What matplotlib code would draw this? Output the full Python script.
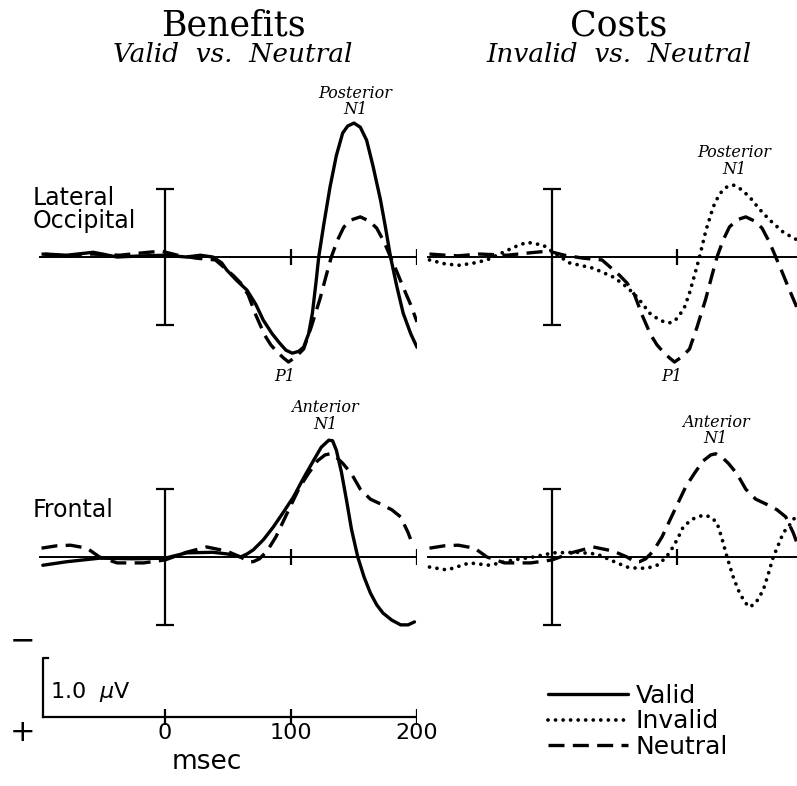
"""ERP waveforms: benefits (valid vs neutral) and costs (invalid vs neutral)."""

import matplotlib

matplotlib.use("Agg")
import matplotlib.pyplot as plt  # noqa: E402
from matplotlib.lines import Line2D  # noqa: E402

W, H = 797, 786
PX_PER_UV = 59.0  # vertical scale: pixels per microvolt (negative up)

# ---- data (ms, microvolts; negative plotted upward) ----
occ_valid_t = [-95, -78, -57, -38, -17, 0, 17, 28, 38, 45, 49, 57, 65, 72, 78, 85, 91, 96, 101,
               106, 110, 114, 117, 120, 122, 126, 131, 136, 141, 145, 150, 155, 160, 165, 171,
               175, 179, 184, 189, 195, 200]
occ_valid_v = [-0.05, -0.03, -0.08, 0.0, -0.02, -0.03, 0.0, -0.03, 0.0, 0.1, 0.22, 0.4, 0.56,
               0.8, 1.07, 1.3, 1.46, 1.58, 1.63, 1.6, 1.53, 1.3, 0.95, 0.4, 0.0, -0.55, -1.19,
               -1.72, -2.10, -2.22, -2.27, -2.20, -1.98, -1.55, -0.97, -0.5, 0.0, 0.5, 0.95,
               1.3, 1.53]

occ_neutral_t = [-98, -85, -75, -58, -36, -18, -3, 10, 25, 40, 54, 60, 66, 72, 79, 84, 89, 94,
                 98, 104, 110, 116, 123, 128, 132, 137, 142, 148, 155, 162, 168, 174, 179, 184,
                 189, 195, 200]
occ_neutral_v = [-0.05, -0.03, -0.02, -0.05, -0.03, -0.07, -0.10, -0.03, 0.02, 0.05, 0.31, 0.44,
                 0.64, 0.98, 1.32, 1.49, 1.61, 1.71, 1.78, 1.69, 1.56, 1.19, 0.71, 0.31, 0.0,
                 -0.29, -0.51, -0.63, -0.68, -0.61, -0.49, -0.25, 0.0, 0.25, 0.51, 0.81, 1.10]

occ_invalid_t = [-98, -85, -74, -62, -52, -42, -30, -20, -7, 1, 14, 33, 49, 57, 65, 72, 78, 86,
                 93, 97, 101, 106, 110, 114, 118, 123, 129, 134, 140, 145, 151, 158, 166, 174,
                 185, 196]
occ_invalid_v = [0.05, 0.12, 0.14, 0.10, 0.05, -0.05, -0.17, -0.25, -0.20, -0.08, 0.10, 0.19,
                 0.34, 0.46, 0.61, 0.78, 0.95, 1.07, 1.12, 1.10, 1.02, 0.85, 0.61, 0.31, 0.0,
                 -0.44, -0.85, -1.07, -1.19, -1.22, -1.15, -1.02, -0.81, -0.63, -0.42, -0.29]

front_valid_t = [-97, -78, -52, -25, 0, 17, 38, 50, 60, 65, 70, 78, 86, 94, 102, 110, 118, 124,
                 130, 133, 136, 140, 144, 148, 153, 158, 163, 168, 173, 180, 187, 193, 198]
front_valid_v = [0.14, 0.08, 0.02, 0.03, 0.02, -0.07, -0.08, -0.05, 0.0, -0.05, -0.12, -0.29,
                 -0.51, -0.76, -1.02, -1.34, -1.64, -1.86, -1.98, -1.97, -1.81, -1.44, -0.97,
                 -0.47, 0.0, 0.34, 0.61, 0.81, 0.95, 1.07, 1.15, 1.15, 1.10]

front_neutral_t = [-98, -86, -75, -62, -52, -38, -17, 0, 17, 33, 49, 60, 66, 70, 75, 81, 88, 94,
                   100, 107, 114, 121, 127, 131, 136, 141, 148, 155, 163, 171, 180, 187, 193, 197]
front_neutral_v = [-0.15, -0.19, -0.20, -0.15, 0.0, 0.10, 0.10, 0.05, -0.08, -0.17, -0.10, 0.0,
                   0.08, 0.08, 0.03, -0.10, -0.34, -0.61, -0.88, -1.19, -1.42, -1.63, -1.73,
                   -1.75, -1.69, -1.59, -1.41, -1.15, -0.98, -0.90, -0.80, -0.68, -0.41, -0.18]

front_invalid_t = [-98, -84, -66, -50, -31, -15, 1, 20, 36, 52, 60, 68, 76, 84, 89, 94, 100, 105,
                   112, 121, 127, 132, 136, 140, 145, 149, 154, 158, 163, 169, 173, 177, 181,
                   185, 190, 194]
front_invalid_v = [0.17, 0.22, 0.10, 0.14, 0.05, 0.0, -0.07, -0.08, -0.05, 0.10, 0.17, 0.19,
                   0.19, 0.14, 0.05, -0.07, -0.29, -0.51, -0.64, -0.71, -0.68, -0.58, -0.31, 0.0,
                   0.34, 0.56, 0.76, 0.85, 0.78, 0.56, 0.29, 0.0, -0.20, -0.41, -0.54, -0.66]

conditions = ["Valid", "Invalid", "Neutral"]
time_ticks = [0, 100, 200]

LW = 2.4
STYLE = {
    "Valid": dict(ls="-", lw=LW, solid_capstyle="round"),
    "Invalid": dict(ls=(0, (0.01, 2.0)), lw=LW + 0.3, dash_capstyle="round"),
    "Neutral": dict(ls=(0, (4.8, 2.5)), lw=LW, dash_capstyle="butt"),
}
SANS = "DejaVu Sans"
SERIF = "DejaVu Serif"


def panel(fig, x0, x1, tlim, base, vtop, vbot):
    top_px = base + vtop * PX_PER_UV
    bot_px = base + vbot * PX_PER_UV
    ax = fig.add_axes([x0 / W, 1 - bot_px / H, (x1 - x0) / W, (bot_px - top_px) / H])
    ax.set_xlim(*tlim)
    ax.set_ylim(vbot, vtop)
    ax.axis("off")
    return ax


def frame(ax, ticks):
    ax.axhline(0, color="k", lw=1.4, zorder=1)
    bar = 1.15
    ax.vlines(0, -bar, bar, color="k", lw=1.6, zorder=1)
    ax.hlines([-bar, bar], -7.5, 7.5, color="k", lw=1.6, zorder=1)
    ax.vlines(ticks, -0.14, 0.14, color="k", lw=1.6, zorder=1)


def curve(ax, t, v, cond):
    ax.plot(t, v, color="k", zorder=3, **STYLE[cond])


fig = plt.figure(figsize=(W / 100, H / 100), dpi=100)

ax_ol = panel(fig, 39, 417, (-100, 200), 257, -2.7, 2.1)
ax_or = panel(fig, 427, 797, (-100, 196), 257, -2.7, 2.1)
ax_fl = panel(fig, 39, 417, (-100, 200), 557, -2.35, 1.6)
ax_fr = panel(fig, 427, 797, (-100, 196), 557, -2.35, 1.6)

frame(ax_ol, [100, 200])
frame(ax_or, [100])
frame(ax_fl, [100, 200])
frame(ax_fr, [100])

curve(ax_ol, occ_neutral_t, occ_neutral_v, "Neutral")
curve(ax_ol, occ_valid_t, occ_valid_v, "Valid")
curve(ax_or, occ_neutral_t, occ_neutral_v, "Neutral")
curve(ax_or, occ_invalid_t, occ_invalid_v, "Invalid")
curve(ax_fl, front_neutral_t, front_neutral_v, "Neutral")
curve(ax_fl, front_valid_t, front_valid_v, "Valid")
curve(ax_fr, front_neutral_t, front_neutral_v, "Neutral")
curve(ax_fr, front_invalid_t, front_invalid_v, "Invalid")

# component labels
lab = dict(ha="center", va="center", family=SERIF, style="italic", fontsize=11.5, linespacing=0.95)
ax_ol.text(151, -2.64, "Posterior\nN1", **lab)
ax_or.text(146, -1.63, "Posterior\nN1", **lab)
ax_ol.text(95, 2.03, "P1", **lab)
ax_or.text(96, 2.03, "P1", **lab)
ax_fl.text(127, -2.39, "Anterior\nN1", **lab)
ax_fr.text(131, -2.14, "Anterior\nN1", **lab)

# row labels
ax_ol.text(-105, -0.8, "Lateral\nOccipital", ha="left", va="center", family=SANS,
           fontsize=17, linespacing=0.95)
ax_fl.text(-105, -0.8, "Frontal", ha="left", va="center", family=SANS, fontsize=17)

# column titles
for cx, title, sub in [(233, "Benefits", "Valid  vs.  Neutral"),
                       (619, "Costs", "Invalid  vs.  Neutral")]:
    fig.text(cx / W, 1 - 35 / H, title, ha="center", va="baseline", family=SERIF, fontsize=25)
    fig.text(cx / W, 1 - 62 / H, sub, ha="center", va="baseline", family=SERIF,
             style="italic", fontsize=19)

# calibration: time axis and voltage bracket
ax_s = panel(fig, 39, 417, (-100, 200), 717, -1.35, 0.95)
ax_s.plot([-97, 200], [0, 0], color="k", lw=1.6)
ax_s.plot([-97, -97, -93], [0, -1.0, -1.0], color="k", lw=1.6)
ax_s.vlines(time_ticks, -0.14, 0.14, color="k", lw=1.6)
for t in time_ticks:
    ax_s.text(t, 0.27, str(t), ha="center", va="center", family=SANS, fontsize=16)
ax_s.text(33, 0.76, "msec", ha="center", va="center", family=SANS, fontsize=19)
ax_s.text(-91, -0.42, r"1.0  $\mu$V", ha="left", va="center", family=SANS, fontsize=16)
ax_s.text(-113, -1.29, "\u2212", ha="center", va="center", family=SANS, fontsize=22)
ax_s.text(-113, 0.27, "+", ha="center", va="center", family=SANS, fontsize=22)

handles = [Line2D([], [], color="k", **STYLE[c]) for c in conditions]
fig.legend(handles, conditions, loc="upper left", bbox_to_anchor=(548 / W, 1 - 684 / H),
           frameon=False, prop={"family": SANS, "size": 18}, handlelength=3.2,
           handletextpad=0.3, labelspacing=0.05, borderpad=0, borderaxespad=0)

fig.savefig("out.png", dpi=100)
